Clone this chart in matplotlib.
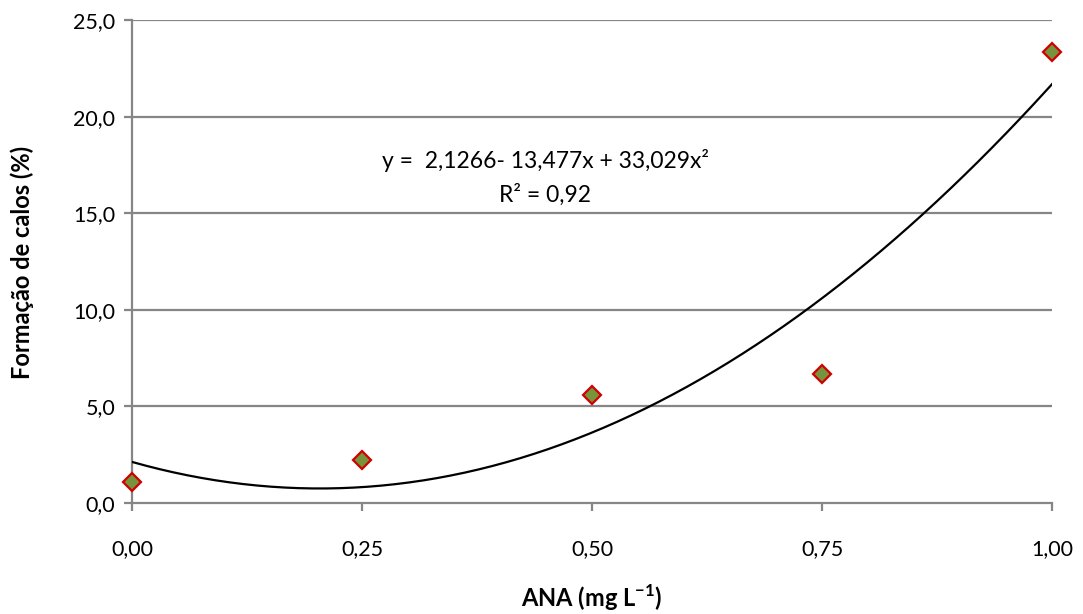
import numpy as np
from matplotlib import pyplot as plt
from matplotlib.ticker import FuncFormatter

# data
ana = [0.00, 0.25, 0.50, 0.75, 1.00]
calos = [1.1, 2.23, 5.59, 6.68, 23.34]
coefs = [2.1266, -13.477, 33.029]   # trendline y = a + b x + c x^2
x_ticks = [0.00, 0.25, 0.50, 0.75, 1.00]
y_ticks = [0, 5, 10, 15, 20, 25]

plt.rcParams['font.family'] = ['Lato', 'DejaVu Sans']
grey = '#868686'

fig = plt.figure(figsize=(10.83, 6.14), dpi=100)
ax = fig.add_axes([132/1083, 1-503/614, 920/1083, 483/614])

xs = np.linspace(0, 1, 200)
ys = coefs[0] + coefs[1]*xs + coefs[2]*xs**2
ax.plot(xs, ys, color='black', lw=1.6, zorder=3)
ax.plot(ana, calos, linestyle='none', marker='D', markersize=9,
        markerfacecolor='#77933C', markeredgecolor='#D00000', markeredgewidth=1.6,
        zorder=4, clip_on=False)

ax.set_xlim(0, 1)
ax.set_ylim(0, 25)
ax.set_xticks(x_ticks)
ax.set_yticks(y_ticks)
ax.xaxis.set_major_formatter(FuncFormatter(lambda v, p: f"{v:.2f}".replace('.', ',')))
ax.yaxis.set_major_formatter(FuncFormatter(lambda v, p: f"{v:.1f}".replace('.', ',')))

for y in y_ticks[1:]:
    ax.axhline(y, color=grey, lw=1.6, zorder=1)
for s in ['top', 'right']:
    ax.spines[s].set_visible(False)
for s in ['left', 'bottom']:
    ax.spines[s].set_color(grey)
    ax.spines[s].set_linewidth(1.6)
ax.tick_params(axis='x', colors=grey, length=6, width=1.6, direction='out', pad=20,
               labelcolor='black', labelsize=15.5)
ax.tick_params(axis='y', colors=grey, length=6, width=1.6, direction='out', pad=6,
               labelcolor='black', labelsize=15.5)

fig.text(22/1083, 1-262/614, 'Formação de calos (%)', rotation=90, ha='center', va='center',
         fontsize=17, fontweight='bold')
fig.text(592/1083, 1-598/614, 'ANA (mg L$^{\\mathregular{-1}}$)', ha='center', va='center',
         fontsize=17, fontweight='bold')

fig.text(545/1083, 1-161/614, 'y =  2,1266- 13,477x + 33,029x²',
         ha='center', va='center', fontsize=16.5)
fig.text(545/1083, 1-195/614, 'R² = 0,92', ha='center', va='center', fontsize=16.5)

fig.savefig('out.png', dpi=100)
